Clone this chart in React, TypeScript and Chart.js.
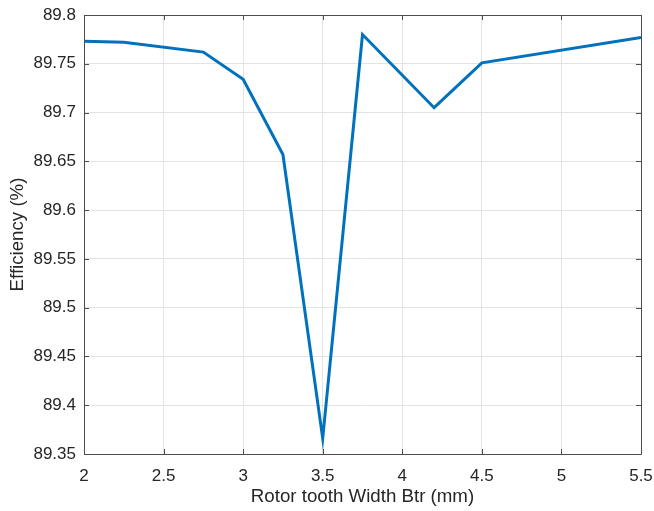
import React, { useEffect, useRef } from "react";
import { Chart, registerables } from "chart.js";

Chart.register(...registerables);

const rotorToothWidth = [2, 2.25, 2.75, 3, 3.25, 3.5, 3.75, 4.2, 4.5, 5.5];
const efficiency = [89.773, 89.772, 89.762, 89.734, 89.657, 89.366, 89.78, 89.705, 89.751, 89.777];
const xTitle = "Rotor tooth Width Btr (mm)";
const yTitle = "Efficiency (%)";

const FONT = "'Liberation Sans', Arial, Helvetica, sans-serif";
const TEXT = "#262626";
const GRID = "#e3e3e3";
const BOX = "#4d4d4d";

const boxPlugin = {
  id: "matlabBox",
  afterDraw(chart: any) {
    const { ctx, chartArea } = chart;
    const { left, right, top, bottom } = chartArea;
    const xs = chart.scales.x;
    const ys = chart.scales.y;
    ctx.save();
    ctx.strokeStyle = BOX;
    ctx.lineWidth = 1;
    ctx.beginPath();
    ctx.rect(Math.round(left) + 0.5, Math.round(top) + 0.5, Math.round(right - left), Math.round(bottom - top));
    ctx.stroke();
    const tl = 5;
    ctx.beginPath();
    xs.ticks.forEach((t: any) => {
      const px = Math.round(xs.getPixelForValue(t.value)) + 0.5;
      ctx.moveTo(px, bottom);
      ctx.lineTo(px, bottom - tl);
      ctx.moveTo(px, top);
      ctx.lineTo(px, top + tl);
    });
    ys.ticks.forEach((t: any) => {
      const py = Math.round(ys.getPixelForValue(t.value)) + 0.5;
      ctx.moveTo(left, py);
      ctx.lineTo(left + tl, py);
      ctx.moveTo(right, py);
      ctx.lineTo(right - tl, py);
    });
    ctx.stroke();
    ctx.restore();
  },
};

export default function App() {
  const ref = useRef<HTMLCanvasElement>(null);

  useEffect(() => {
    if (!ref.current) return;
    const chart = new Chart(ref.current, {
      type: "line",
      data: {
        datasets: [
          {
            data: rotorToothWidth.map((x, i) => ({ x, y: efficiency[i] })),
            borderColor: "#0072BD",
            backgroundColor: "#0072BD",
            borderWidth: 3,
            pointRadius: 0,
            tension: 0,
            fill: false,
          },
        ],
      },
      options: {
        animation: false,
        responsive: false,
        layout: { padding: { left: 0, right: 13, top: 15, bottom: 0 } },
        plugins: { legend: { display: false }, tooltip: { enabled: false } },
        scales: {
          x: {
            type: "linear",
            min: 2,
            max: 5.5,
            afterFit: (s: any) => {
              s.height = 57;
              s.paddingLeft = 0;
              s.paddingRight = 0;
            },
            ticks: {
              stepSize: 0.5,
              color: TEXT,
              font: { family: FONT, size: 17 },
              padding: 12,
              maxRotation: 0,
              callback: (v: any) => String(Number(Number(v).toFixed(2))),
            },
            grid: { color: GRID, drawTicks: false },
            border: { display: false },
            title: {
              display: true,
              text: xTitle,
              color: TEXT,
              font: { family: FONT, size: 18.7 },
              padding: { top: 0, bottom: 3 },
            },
          },
          y: {
            type: "linear",
            min: 89.35,
            max: 89.8,
            afterFit: (s: any) => {
              s.width = 84;
              s.paddingTop = 0;
              s.paddingBottom = 0;
            },
            ticks: {
              stepSize: 0.05,
              color: TEXT,
              font: { family: FONT, size: 17 },
              padding: 8,
              callback: (v: any) => String(Number(Number(v).toFixed(2))),
            },
            grid: { color: GRID, drawTicks: false },
            border: { display: false },
            title: {
              display: true,
              text: yTitle,
              color: TEXT,
              font: { family: FONT, size: 18.7 },
              padding: { top: 7, bottom: 0 },
            },
          },
        },
      },
      plugins: [boxPlugin],
    });
    return () => chart.destroy();
  }, []);

  return (
    <div style={{ position: "fixed", left: 0, top: 0, width: 654, height: 511, background: "#fff" }}>
      <canvas ref={ref} width={654} height={511} />
    </div>
  );
}
